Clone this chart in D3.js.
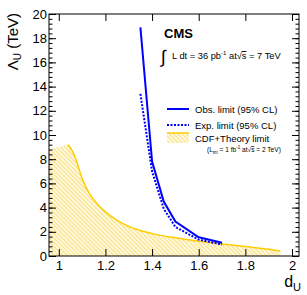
<!DOCTYPE html>
<html>
<head>
<meta charset="utf-8">
<script src="https://cdn.jsdelivr.net/npm/d3@7"></script>
<style>
  body { margin: 0; background: #fff; }
  text { font-family: "Liberation Sans", Arial, sans-serif; }
</style>
</head>
<body>
<div id="chart"></div>
<script>
// observed / expected limits (d_U vs Lambda_U in TeV)
var obsD = [1.35, 1.4, 1.45, 1.5, 1.6, 1.7];
var obsL = [18.9, 7.8, 4.5, 2.85, 1.55, 1.1];
var expD = [1.35, 1.4, 1.45, 1.5, 1.6, 1.7];
var expL = [13.4, 7.0, 3.9, 2.4, 1.35, 0.95];
// CDF + theory excluded region boundary
var cdfD = [0.96, 1.0, 1.04, 1.06, 1.075, 1.1, 1.13, 1.17, 1.2, 1.25, 1.3, 1.35, 1.4, 1.5, 1.6, 1.7, 1.8, 1.9, 1.95];
var cdfL = [8.85, 9.0, 9.2, 8.6, 7.9, 6.4, 5.2, 4.2, 3.65, 2.95, 2.45, 2.1, 1.85, 1.5, 1.22, 1.0, 0.78, 0.56, 0.42];

var xTicks = [1, 1.2, 1.4, 1.6, 1.8, 2];
var yTicks = [0, 2, 4, 6, 8, 10, 12, 14, 16, 18, 20];

var svgWidth = 307, svgHeight = 295;
var margins = {top: 14, right: 8, bottom: 39, left: 49};
var chartWidth = svgWidth - margins.left - margins.right;
var chartHeight = svgHeight - margins.top - margins.bottom;

var svg = d3.select("#chart").append("svg")
    .attr("width", svgWidth)
    .attr("height", svgHeight);

// hatch pattern for CDF region
var defs = svg.append("defs");
var pat = defs.append("pattern")
    .attr("id", "hatch")
    .attr("patternUnits", "userSpaceOnUse")
    .attr("width", 3).attr("height", 3)
    .attr("patternTransform", "rotate(-45)");
pat.append("line")
    .attr("x1", 1).attr("y1", 0).attr("x2", 1).attr("y2", 3)
    .attr("stroke", "#f5c400").attr("stroke-width", 0.75);

var chartGroup = svg.append("g")
    .attr("transform", `translate(${margins.left}, ${margins.top})`);

var xscale = d3.scaleLinear().domain([0.958, 2.03]).range([0, chartWidth]);
var yscale = d3.scaleLinear().domain([0, 20]).range([chartHeight, 0]);

// CDF area + boundary
var cdf = cdfD.map((d, i) => [d, cdfL[i]]);
chartGroup.append("path")
    .datum(cdf)
    .attr("fill", "url(#hatch)")
    .attr("d", d3.area().x(d => xscale(d[0])).y0(yscale(0)).y1(d => yscale(d[1])).curve(d3.curveMonotoneX));
chartGroup.append("path")
    .datum(cdf.slice(2))
    .attr("fill", "none")
    .attr("stroke", "#ffcc00")
    .attr("stroke-width", 1.5)
    .attr("d", d3.line().x(d => xscale(d[0])).y(d => yscale(d[1])).curve(d3.curveMonotoneX));

var line = d3.line().x(d => xscale(d[0])).y(d => yscale(d[1]));
chartGroup.append("path")
    .datum(expD.map((d, i) => [d, expL[i]]))
    .attr("fill", "none")
    .attr("stroke", "#0000ff")
    .attr("stroke-width", 2)
    .attr("stroke-dasharray", "2,1.5")
    .attr("d", line);
chartGroup.append("path")
    .datum(obsD.map((d, i) => [d, obsL[i]]))
    .attr("fill", "none")
    .attr("stroke", "#0000ff")
    .attr("stroke-width", 2)
    .attr("d", line);

// axes - ROOT style ticks inside
var yMinor = d3.range(0, 20.01, 0.4);
function addAxis(axis, tf, labels) {
  var g = chartGroup.append("g").attr("transform", tf).call(axis);
  g.select(".domain").remove();
  g.selectAll("line").attr("stroke", "#000");
  if (!labels) g.selectAll("text").remove();
  else g.selectAll("text").style("font-size", "13px").attr("fill", "#000");
  return g;
}
addAxis(d3.axisBottom(xscale).tickValues(xTicks).tickSize(-7).tickSizeOuter(0).tickPadding(5).tickFormat(d3.format("")), `translate(0,${chartHeight})`, true);
addAxis(d3.axisTop(xscale).tickValues(xTicks).tickSize(-7).tickSizeOuter(0), "translate(0,0)", false);
addAxis(d3.axisLeft(yscale).tickValues(yTicks).tickSize(-7).tickSizeOuter(0).tickPadding(2), "translate(0,0)", true);
addAxis(d3.axisLeft(yscale).tickValues(yMinor).tickSize(-3.5).tickSizeOuter(0), "translate(0,0)", false);
addAxis(d3.axisRight(yscale).tickValues(yTicks).tickSize(-7).tickSizeOuter(0), `translate(${chartWidth},0)`, false);
addAxis(d3.axisRight(yscale).tickValues(yMinor).tickSize(-3.5).tickSizeOuter(0), `translate(${chartWidth},0)`, false);

chartGroup.append("rect")
    .attr("width", chartWidth).attr("height", chartHeight)
    .attr("fill", "none").attr("stroke", "#000").attr("stroke-width", 1);

// axis titles
var yt = svg.append("text")
    .attr("transform", "translate(18,13) rotate(-90)")
    .attr("text-anchor", "end")
    .style("font-size", "15px");
yt.append("tspan").text("\u039B");
yt.append("tspan").attr("dy", 3).style("font-size", "10px").text("U");
yt.append("tspan").attr("dy", -3).text(" (TeV)");

var xt = svg.append("text")
    .attr("x", 301).attr("y", 287)
    .attr("text-anchor", "end")
    .style("font-size", "16px");
xt.append("tspan").text("d");
xt.append("tspan").attr("dy", 4).style("font-size", "11px").text("U");

// CMS label
svg.append("text").attr("x", 164).attr("y", 38)
    .style("font-size", "13px").style("font-weight", "bold").text("CMS");
svg.append("text").attr("x", 161).attr("y", 63)
    .style("font-size", "18px").text("\u222B");
var lumi = svg.append("text").attr("x", 172).attr("y", 59).style("font-size", "9.3px");
lumi.append("tspan").text("L dt = 36 pb");
lumi.append("tspan").attr("dy", -4).style("font-size", "6px").text("-1");
lumi.append("tspan").attr("dy", 4).text(" at\u221A");
lumi.append("tspan").style("text-decoration", "overline").text("s");
lumi.append("tspan").text(" = 7 TeV");

// legend
var lx = 167, lw = 22;
var leg = svg.append("g");
leg.append("line").attr("x1", lx).attr("x2", lx + lw).attr("y1", 109).attr("y2", 109)
    .attr("stroke", "#0000ff").attr("stroke-width", 2);
leg.append("line").attr("x1", lx).attr("x2", lx + lw).attr("y1", 125).attr("y2", 125)
    .attr("stroke", "#0000ff").attr("stroke-width", 2).attr("stroke-dasharray", "2,1.5");
leg.append("rect").attr("x", lx).attr("y", 133).attr("width", lw).attr("height", 10)
    .attr("fill", "url(#hatch)");
leg.append("line").attr("x1", lx).attr("x2", lx + lw).attr("y1", 133).attr("y2", 133)
    .attr("stroke", "#ffcc00").attr("stroke-width", 1.5);
var legText = ["Obs. limit (95% CL)", "Exp. limit (95% CL)", "CDF+Theory limit"];
var legY = [112.5, 128.5, 141.5];
legText.forEach(function(t, i) {
  leg.append("text").attr("x", 195).attr("y", legY[i]).style("font-size", "9.5px").text(t);
});
var sub = leg.append("text").attr("x", 207).attr("y", 152).style("font-size", "6.6px");
sub.append("tspan").text("(L");
sub.append("tspan").attr("dy", 2).style("font-size", "4.5px").text("int");
sub.append("tspan").attr("dy", -2).text(" = 1 fb");
sub.append("tspan").attr("dy", -3).style("font-size", "4.5px").text("-1");
sub.append("tspan").attr("dy", 3).text(" at\u221A");
sub.append("tspan").style("text-decoration", "overline").text("s");
sub.append("tspan").text(" = 2 TeV)");
</script>
</body>
</html>
